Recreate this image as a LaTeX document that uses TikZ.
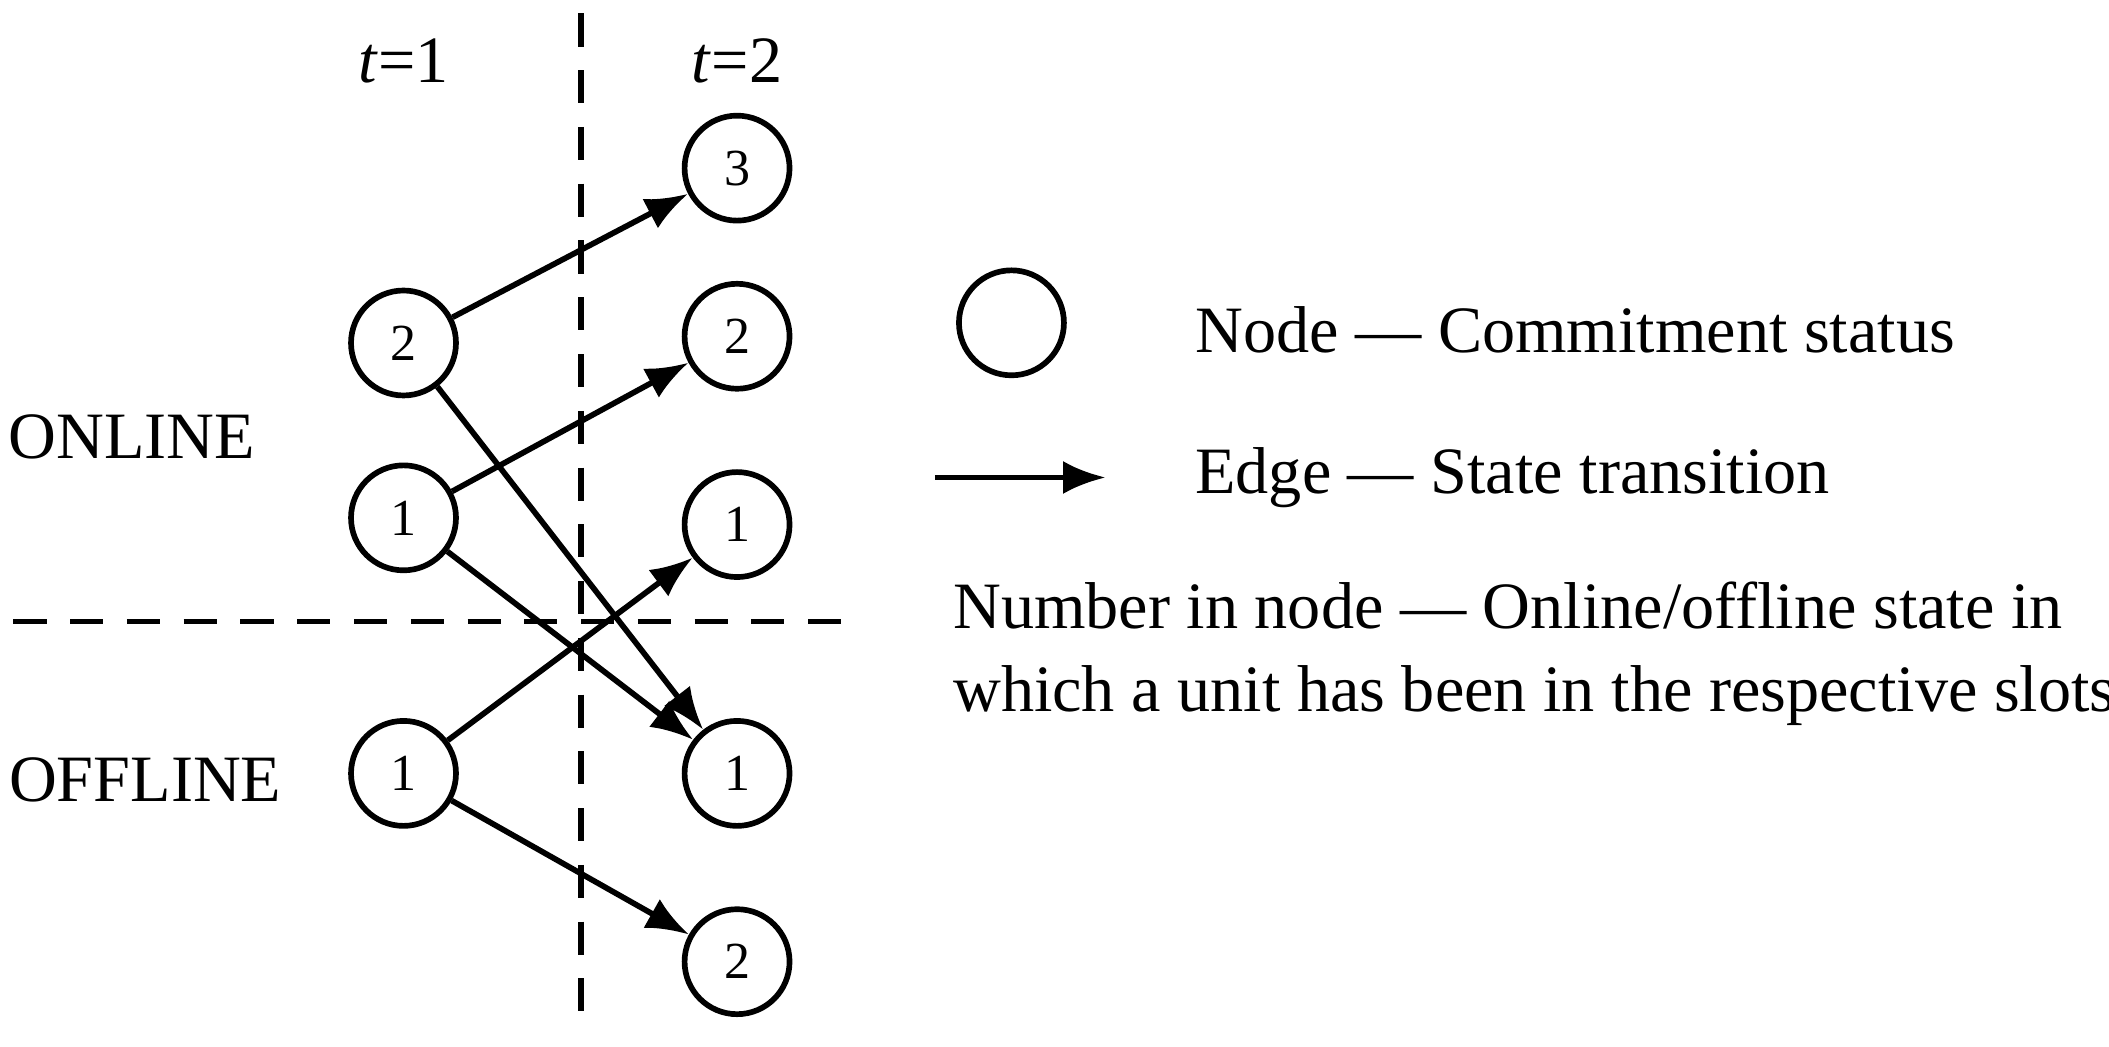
\documentclass[tikz,border=0pt]{standalone}
\usepackage{fontspec}
\setmainfont{Liberation Serif}
\usetikzlibrary{arrows.meta}
\begin{document}
\begin{tikzpicture}[x=0.01cm,y=-0.01cm,
  st/.style={circle,draw,line width=1.2pt,minimum size=0.78cm,inner sep=0pt,font=\fontsize{11}{13}\selectfont},
  ed/.style={line width=1.2pt,-{Latex[length=9pt,width=7pt]}},
  dsh/.style={line width=1.2pt,dash pattern=on 7pt off 5pt},
  lab/.style={font=\fontsize{14}{17}\selectfont,inner sep=0pt}]
\useasboundingbox (0,0) rectangle (1568,778);
\draw[dsh] (432,10) -- (432,768);
\draw[dsh] (10,462) -- (637,462);
\node[lab] (t1) at (300,45) {\textit{t}=1};
\node[lab] (t2) at (548,45) {\textit{t}=2};
\node[lab] (on) at (98,325) {ONLINE};
\node[lab] (off) at (108,580) {OFFLINE};
\node[st] (a2) at (300,255) {2};
\node[st] (a1) at (300,385) {1};
\node[st] (b1) at (300,575) {1};
\node[st] (r3) at (548,125) {3};
\node[st] (r2) at (548,250) {2};
\node[st] (r1) at (548,390) {1};
\node[st] (s1) at (548,575) {1};
\node[st] (s2) at (548,715) {2};
\draw[ed] (a2) -- (r3);
\draw[ed] (a2) -- (s1);
\draw[ed] (a1) -- (r2);
\draw[ed] (a1) -- (s1);
\draw[ed] (b1) -- (r1);
\draw[ed] (b1) -- (s2);
\node[st] (lg) at (752,240) {};
\coordinate (e1) at (695,355);
\coordinate (e2) at (822,355);
\draw[ed] (e1) -- (e2);
\node[lab,anchor=west] (l1) at (888,245) {Node --- Commitment status};
\node[lab,anchor=west] (l2) at (888,355) {Edge --- State transition};
\node[lab,anchor=north west,align=left,font=\fontsize{14}{17.5}\selectfont] (l3) at (708,432) {Number in node --- Online/offline state in\\which a unit has been in the respective slots};
\end{tikzpicture}
\end{document}
